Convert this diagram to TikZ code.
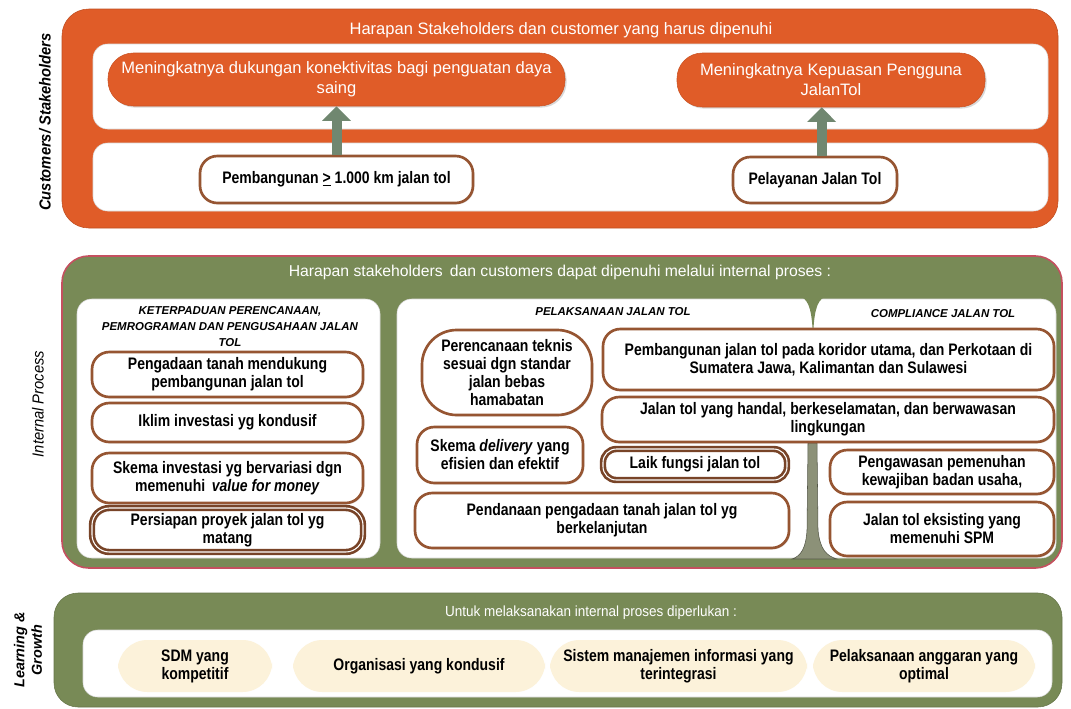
\documentclass[tikz,border=0pt]{standalone}
\usepackage{fontspec}
\setmainfont{Liberation Sans}
\newfontfamily\narrowfont[FakeStretch=0.84]{Liberation Sans}
\newfontfamily\sidefont[FakeStretch=0.92]{Liberation Sans}
\usetikzlibrary{shadows,positioning,arrows.meta}

\definecolor{tolorange}{RGB}{224,92,40}
\definecolor{tolgreen}{RGB}{120,138,86}
\definecolor{tolpink}{RGB}{196,80,95}
\definecolor{tolbrown}{RGB}{150,85,50}
\definecolor{tolcream}{RGB}{252,242,218}
\definecolor{tolarrow}{RGB}{112,135,112}
\definecolor{toltrunk}{RGB}{140,145,120}

\tikzset{perspective/.style={rounded corners=20pt},
        stage/.style={fill=white, draw=black!15, rounded corners=11pt},
        boxsize/.style 2 args={minimum width=#1*0.75pt, minimum height=#2*0.75pt},
        banner/.style={text=white, font=\fontsize{12.4}{15}\selectfont},
        goal/.style={fill=tolorange, draw=tolorange!90!black, rounded corners=19pt,
                     text=white, font=\fontsize{12.4}{15}\selectfont, align=center,
                     inner sep=0pt, drop shadow={opacity=0.3, shadow xshift=1.2pt, shadow yshift=-1.2pt}},
        kpi/.style={fill=white, draw=tolbrown, line width=2pt, rounded corners=13pt,
                    font=\narrowfont\bfseries\fontsize{12.5}{13.5}\selectfont, align=center,
                    inner sep=0pt, drop shadow={opacity=0.25, shadow xshift=1pt, shadow yshift=-1pt}},
        kpithick/.style={kpi, double=white, double distance=0.8pt, draw=tolbrown!80!black},
        need/.style={fill=tolcream, draw=none, rounded corners=22pt, inner sep=0pt,
                     font=\narrowfont\bfseries\fontsize{12.5}{13.5}\selectfont, align=center},
        heading/.style={font=\bfseries\itshape\fontsize{8.6}{12}\selectfont, align=center},
        sidelabel/.style={rotate=90, font=\sidefont\bfseries\itshape\fontsize{12}{14}\selectfont, align=center},
        liftarrow/.style={draw=tolarrow, line width=7.5pt, -{Triangle[length=11pt,width=21pt]}},
        }

\begin{document}
\begin{tikzpicture}[x=0.75pt,y=-0.75pt]
\useasboundingbox (0,0) rectangle (1071,708);

% customers / stakeholders
\draw[perspective, fill=tolorange, draw=tolorange!85!black] (62,9) rectangle (1058,228);
\node[banner] (custtitle) at (561,30) {Harapan Stakeholders dan customer yang harus dipenuhi};
\draw[stage] (93,44) rectangle (1048,129);
\draw[stage] (93,143) rectangle (1048,211);
\node[goal, boxsize={457}{53}] (konek) at (336.5,79.5) {Meningkatnya dukungan konektivitas bagi penguatan daya\\saing};
\node[goal, boxsize={308}{54}] (puas) at (831,80) {Meningkatnya Kepuasan Pengguna\\JalanTol};
\node[kpi, boxsize={273}{47}] (pemb) at (336.5,179.5) {Pembangunan \underline{>} 1.000 km jalan tol};
\node[kpi, boxsize={164}{46}] (layan) at (815,180) {Pelayanan Jalan Tol};
\draw[liftarrow] (pemb.north) -- (pemb.north |- konek.south);
\draw[liftarrow] ([xshift=5pt]layan.north) -- ([xshift=5pt]layan.north |- puas.south);
\node[sidelabel] (custlabel) at (45,122) {Customers/ Stakeholders};

% internal process
\draw[perspective, fill=tolgreen, draw=tolpink, line width=1.2pt] (62,256) rectangle (1062,568);
\node[banner, font=\fontsize{11.8}{14}\selectfont] (proctitle) at (560,272) {Harapan stakeholders\, dan customers dapat dipenuhi melalui internal proses :};
\draw[stage] (77,299) rectangle (380,558);
\draw[stage] (397,299) rectangle (1056,558);
\fill[tolgreen] (801,297) .. controls (810,300) and (812,315) .. (813,336)
  .. controls (814,315) and (816,300) .. (825,297) -- cycle;
\fill[toltrunk, draw=toltrunk!60!black, line width=0.4pt] (808,443) -- (817,443) -- (818,530)
  .. controls (820,550) and (827,556) .. (837,559) -- (792,559)
  .. controls (801,556) and (806,548) .. (807,530) -- cycle;
\node[heading] (kethead) at (230,327) {KETERPADUAN PERENCANAAN,\\PEMROGRAMAN DAN PENGUSAHAAN JALAN\\TOL};
\node[heading] (lakhead) at (613,312) {PELAKSANAAN JALAN TOL};
\node[heading] (comphead) at (943,314) {COMPLIANCE JALAN TOL};
\node[kpi, boxsize={271}{45}] (tanah) at (227.5,374.5) {Pengadaan tanah mendukung\\pembangunan jalan tol};
\node[kpi, boxsize={271}{39}] (iklim) at (227.5,422.5) {Iklim investasi yg kondusif};
\node[kpi, boxsize={271}{50}] (skemainv) at (227.5,478) {Skema investasi yg bervariasi dgn\\memenuhi\, \textit{value for money}};
\node[kpithick, boxsize={271}{44}] (siap) at (227.5,530) {Persiapan proyek jalan tol yg\\matang};
\node[kpi, rounded corners=26pt, boxsize={170}{85}] (teknis) at (507,372.5) {Perencanaan teknis\\sesuai dgn standar\\jalan bebas\\hamabatan};
\node[kpi, boxsize={451}{61}] (koridor) at (828.5,359.5) {Pembangunan jalan tol pada koridor utama, dan Perkotaan di\\Sumatera Jawa, Kalimantan dan Sulawesi};
\node[kpi, boxsize={452}{45}] (handal) at (828,419.5) {Jalan tol yang handal, berkeselamatan, dan berwawasan\\lingkungan};
\node[kpi, boxsize={166}{56}] (delivery) at (500,455) {Skema \textit{delivery} yang\\efisien dan efektif};
\node[kpithick, rounded corners=10pt, boxsize={184}{31}] (laik) at (695,464.5) {Laik fungsi jalan tol};
\node[kpi, boxsize={374}{55}] (dana) at (602,520.5) {Pendanaan pengadaan tanah jalan tol yg\\berkelanjutan};
\node[kpi, boxsize={224}{44}] (awas) at (942,472) {Pengawasan pemenuhan\\kewajiban badan usaha,};
\node[kpi, boxsize={224}{54}] (spm) at (942,529) {Jalan tol eksisting yang\\memenuhi SPM};
\node[sidelabel, font=\sidefont\itshape\fontsize{12}{14}\selectfont] (proclabel) at (38,404) {Internal Process};

% learning & growth
\draw[perspective, rounded corners=18pt, fill=tolgreen, draw=tolgreen!85!black] (54,593) rectangle (1062,707);
\node[banner, font=\sidefont\fontsize{11}{13}\selectfont] (learntitle) at (591,613) {Untuk melaksanakan internal proses diperlukan :};
\draw[stage] (83,630) rectangle (1052,697);
\node[need, boxsize={154}{52}] (sdm) at (195,666) {SDM yang\\kompetitif};
\node[need, boxsize={252}{52}] (org) at (419,666) {Organisasi yang kondusif};
\node[need, boxsize={257}{52}] (sim) at (678.5,666) {Sistem manajemen informasi yang\\terintegrasi};
\node[need, boxsize={222}{52}] (anggaran) at (924,666) {Pelaksanaan anggaran yang\\optimal};
\node[sidelabel, font=\bfseries\itshape\fontsize{10.8}{13}\selectfont] (learnlabel) at (28,650) {Learning \&\\Growth};
\end{tikzpicture}
\end{document}
